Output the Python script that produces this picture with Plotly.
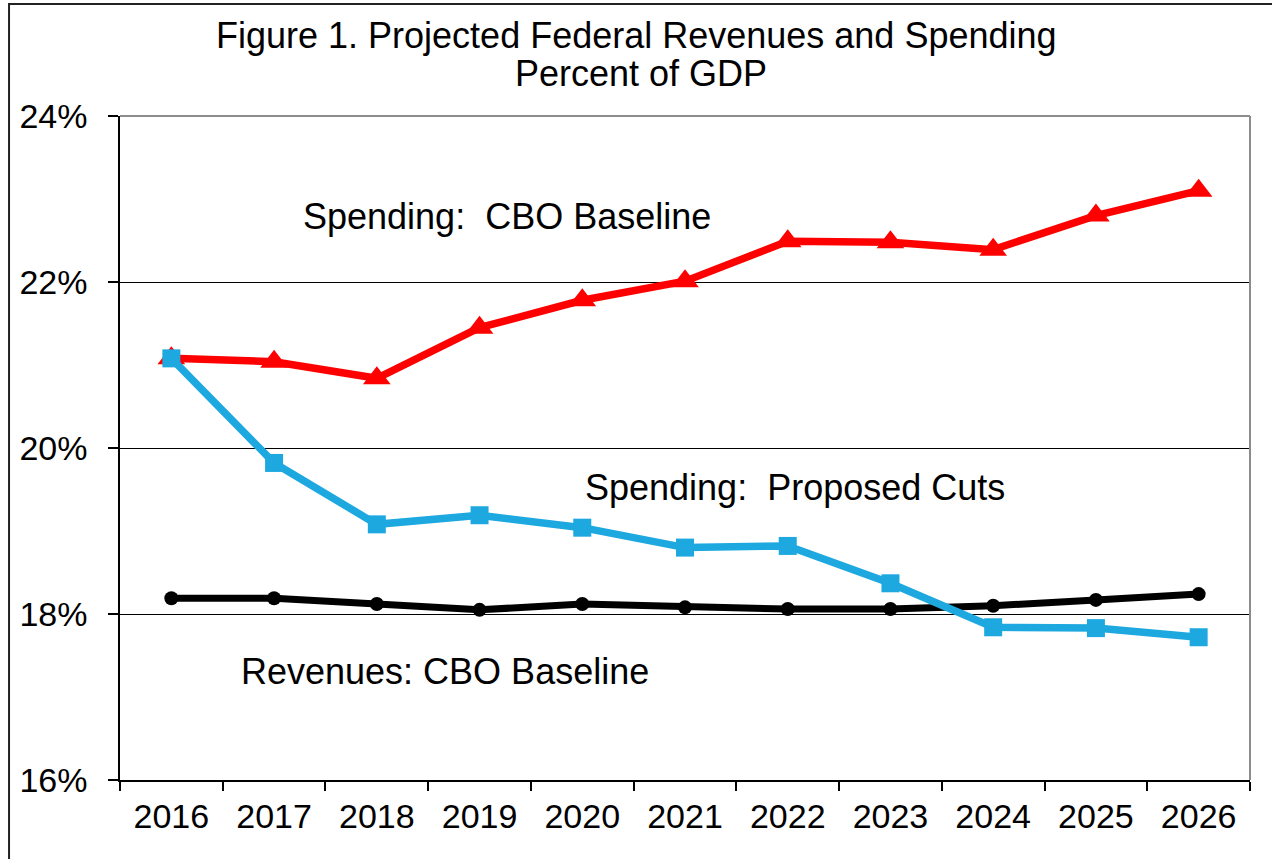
import plotly.graph_objects as go

years = ["2016", "2017", "2018", "2019", "2020", "2021", "2022", "2023", "2024", "2025", "2026"]
spending_cbo = [21.08, 21.04, 20.84, 21.45, 21.78, 22.01, 22.49, 22.48, 22.39, 22.80, 23.10]
spending_cuts = [21.08, 19.82, 19.08, 19.19, 19.04, 18.80, 18.82, 18.37, 17.84, 17.83, 17.72]
revenues_cbo = [18.19, 18.19, 18.12, 18.05, 18.12, 18.08, 18.06, 18.06, 18.10, 18.17, 18.24]
y_ticks = [16, 18, 20, 22, 24]
y_tick_labels = ["16%", "18%", "20%", "22%", "24%"]

FONT = "Arial, Liberation Sans, sans-serif"
RED = "#FF0000"
BLUE = "#1EA8E0"

fig = go.Figure()
fig.add_trace(go.Scatter(
    x=years, y=revenues_cbo, mode="lines+markers",
    line=dict(color="black", width=7),
    marker=dict(symbol="circle", size=14, color="black"),
    name="Revenues: CBO Baseline"))
fig.add_trace(go.Scatter(
    x=years, y=spending_cbo, mode="lines+markers",
    line=dict(color=RED, width=7.5),
    marker=dict(symbol="triangle-up", size=24, color=RED),
    name="Spending: CBO Baseline"))
fig.add_trace(go.Scatter(
    x=years, y=spending_cuts, mode="lines+markers",
    line=dict(color=BLUE, width=7.5),
    marker=dict(symbol="square", size=18, color=BLUE),
    name="Spending: Proposed Cuts"))

fig.update_layout(
    width=1272, height=859,
    margin=dict(l=120, r=22, t=116, b=79),
    paper_bgcolor="white", plot_bgcolor="white",
    showlegend=False,
    font=dict(family=FONT, color="black", size=34),
)
fig.update_xaxes(
    type="category", range=[-0.5, 10.5],
    showgrid=False, showline=True, linecolor="black", linewidth=1.5,
    ticks="outside", tickson="boundaries", ticklen=9, tickwidth=1.5, tickcolor="black",
    tickfont=dict(family=FONT, size=34, color="black"),
    ticklabelstandoff=5,
)
fig.update_yaxes(
    range=[16, 24], tickvals=y_ticks, ticktext=y_tick_labels,
    showgrid=True, gridcolor="black", gridwidth=1.2,
    showline=True, linecolor="black", linewidth=1.5,
    ticks="outside", ticklen=10, tickwidth=1.5, tickcolor="black",
    tickfont=dict(family=FONT, size=34, color="black"),
    ticklabelstandoff=14, zeroline=False,
)

# plot-area top and right border (gray)
fig.add_shape(type="line", xref="paper", yref="paper", x0=0, x1=1, y0=1, y1=1,
              line=dict(color="#8c8c8c", width=2), layer="above")
fig.add_shape(type="line", xref="paper", yref="paper", x0=1, x1=1, y0=0, y1=1,
              line=dict(color="#8c8c8c", width=2), layer="above")
# outer frame (cut off at right and bottom)
fig.add_shape(type="rect", xref="paper", yref="paper",
              x0=-0.0982, x1=1.03, y0=-0.14, y1=1.1687,
              line=dict(color="#222222", width=2), fillcolor="rgba(0,0,0,0)", layer="above")

ann_font = dict(family=FONT, size=36, color="black")
fig.add_annotation(text="Figure 1. Projected Federal Revenues and Spending",
                   xref="paper", yref="paper", x=0.4575, y=1.121,
                   showarrow=False, font=ann_font, xanchor="center", yanchor="middle")
fig.add_annotation(text="Percent of GDP",
                   xref="paper", yref="paper", x=0.461, y=1.0645,
                   showarrow=False, font=ann_font, xanchor="center", yanchor="middle")
fig.add_annotation(text="Spending:\u00a0 CBO Baseline",
                   xref="paper", yref="paper", x=0.3425, y=0.848,
                   showarrow=False, font=ann_font, xanchor="center", yanchor="middle")
fig.add_annotation(text="Spending:\u00a0 Proposed Cuts",
                   xref="paper", yref="paper", x=0.597, y=0.4398,
                   showarrow=False, font=ann_font, xanchor="center", yanchor="middle")
fig.add_annotation(text="Revenues: CBO Baseline",
                   xref="paper", yref="paper", x=0.288, y=0.164,
                   showarrow=False, font=ann_font, xanchor="center", yanchor="middle")

fig.write_html("out.html")
